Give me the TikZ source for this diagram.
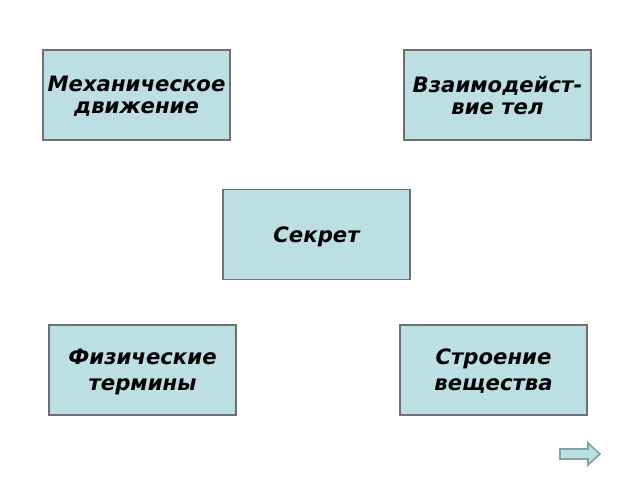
\documentclass[tikz,border=0pt]{standalone}
\usepackage{fontspec}
\setmainfont{DejaVu Sans}
\definecolor{casefond}{HTML}{BCDFE3}
\definecolor{casebord}{HTML}{707070}
\definecolor{flechebord}{HTML}{7FA3A7}
\begin{document}
\begin{tikzpicture}[x=0.5pt,y=-0.5pt,
	case/.style={draw=casebord, line width=0.6pt, fill=casefond, minimum width=93.5pt, minimum height=45pt, align=center, inner sep=0pt},
	serre/.style={font=\bfseries\itshape\fontsize{10.6}{11}\selectfont, text depth=-4.5pt},
	large/.style={font=\bfseries\itshape\fontsize{10.6}{13}\selectfont, text depth=-1.5pt}]
	\useasboundingbox[fill=white] (0,0) rectangle (640,480);
	% les cases du haut
	\node[case, serre] (meca) at (136.5,95) {Механическое\\движение};
	\node[case, serre] (vzaim) at (497.5,95) {Взаимодейст-\\вие тел};
	% la case du milieu
	\node[case, serre] (secret) at (316.5,234.5) {Секрет};
	% les cases du bas
	\node[case, large] (termes) at (142.5,370) {Физические\\термины};
	\node[case, large] (stroenie) at (493.5,370) {Строение\\вещества};
	% la fleche
	\draw[flechebord, fill=casefond, line width=0.8pt] (560,449) -- (588,449) -- (588,443) -- (600,454) -- (588,465) -- (588,459) -- (560,459) -- cycle;
\end{tikzpicture}
\end{document}
